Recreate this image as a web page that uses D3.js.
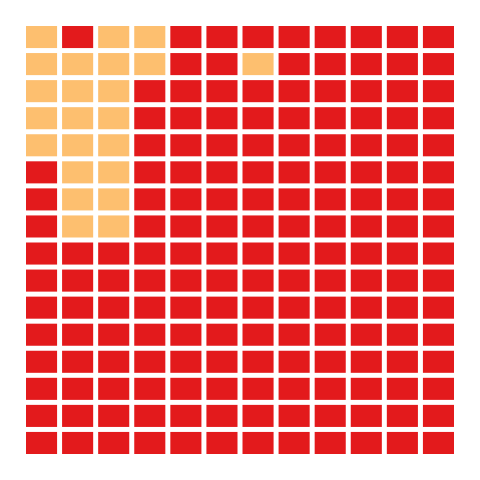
<!DOCTYPE html>
<html>
<head>
<meta charset="utf-8">
<script src="https://cdn.jsdelivr.net/npm/d3@7"></script>
<style>
  body{margin:0;background:#fff;}
</style>
</head>
<body>
<svg id="waffle"></svg>
<script>
// category of each cell, row by row (0 = red, 1 = light orange)
var categories=["red","orange"]
var colors=["#e31a1c","#fdbf6f"]
var rows=[
  [1,0,1,1,0,0,0,0,0,0,0,0],
  [1,1,1,1,0,0,1,0,0,0,0,0],
  [1,1,1,0,0,0,0,0,0,0,0,0],
  [1,1,1,0,0,0,0,0,0,0,0,0],
  [1,1,1,0,0,0,0,0,0,0,0,0],
  [0,1,1,0,0,0,0,0,0,0,0,0],
  [0,1,1,0,0,0,0,0,0,0,0,0],
  [0,1,1,0,0,0,0,0,0,0,0,0],
  [0,0,0,0,0,0,0,0,0,0,0,0],
  [0,0,0,0,0,0,0,0,0,0,0,0],
  [0,0,0,0,0,0,0,0,0,0,0,0],
  [0,0,0,0,0,0,0,0,0,0,0,0],
  [0,0,0,0,0,0,0,0,0,0,0,0],
  [0,0,0,0,0,0,0,0,0,0,0,0],
  [0,0,0,0,0,0,0,0,0,0,0,0],
  [0,0,0,0,0,0,0,0,0,0,0,0]
]

var screen={width:480,height:480}
var gap=5

var svg=d3.select("#waffle")
    .attr("width",screen.width)
    .attr("height",screen.height)

var cells=[]
rows.forEach(function(r,i){
    r.forEach(function(v,j){
        cells.push({row:i,col:j,cat:categories[v]})
    })
})

var xScale=d3.scaleBand()
    .domain(d3.range(rows[0].length))
    .range([26,454+gap])
var yScale=d3.scaleBand()
    .domain(d3.range(rows.length))
    .range([26,454+gap])
var colorScale=d3.scaleOrdinal()
    .domain(categories)
    .range(colors)

svg.append("g")
    .selectAll("rect")
    .data(cells)
    .enter()
    .append("rect")
    .attr("x",function(d){return xScale(d.col)})
    .attr("y",function(d){return yScale(d.row)})
    .attr("width",xScale.bandwidth()-gap)
    .attr("height",yScale.bandwidth()-gap)
    .attr("fill",function(d){return colorScale(d.cat)})
</script>
</body>
</html>
